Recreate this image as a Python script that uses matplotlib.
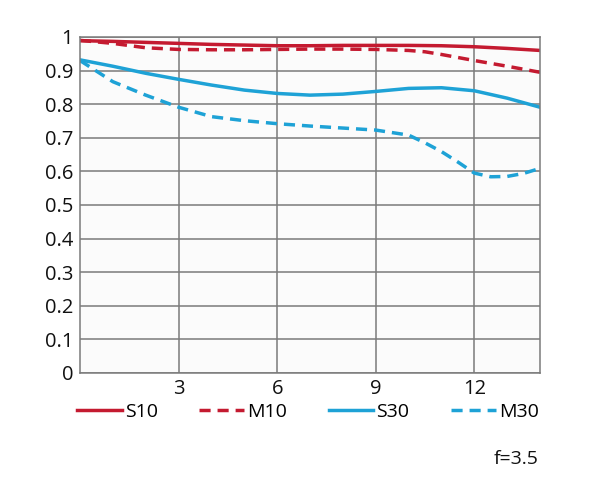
import matplotlib
matplotlib.use("Agg")
import matplotlib.pyplot as plt
from matplotlib.lines import Line2D

plt.rcParams['font.family'] = ['Open Sans', 'DejaVu Sans']

x_s10 = [0, 1, 2, 3, 4, 5, 6, 7, 8, 9, 10, 11, 12, 13, 14]
s10 = [0.989, 0.987, 0.984, 0.981, 0.978, 0.976, 0.974, 0.974, 0.975, 0.975, 0.975, 0.974, 0.971, 0.966, 0.960]

x_m10 = [0, 1, 2, 3, 4, 5, 6, 7, 8, 9, 10, 10.5, 11, 12, 13, 14]
m10 = [0.990, 0.981, 0.968, 0.963, 0.962, 0.962, 0.963, 0.964, 0.964, 0.963, 0.960, 0.956, 0.948, 0.930, 0.913, 0.895]

x_s30 = [0, 1, 2, 3, 4, 5, 6, 7, 8, 9, 10, 11, 12, 13, 14]
s30 = [0.932, 0.913, 0.892, 0.874, 0.857, 0.842, 0.832, 0.827, 0.830, 0.838, 0.847, 0.849, 0.840, 0.818, 0.791]

x_m30 = [0, 1, 2, 3, 4, 5, 6, 7, 8, 9, 10, 10.5, 11, 11.5, 12, 12.5, 13, 13.5, 14]
m30 = [0.930, 0.867, 0.827, 0.791, 0.763, 0.751, 0.742, 0.735, 0.729, 0.723, 0.708, 0.685, 0.659, 0.628, 0.595, 0.584, 0.585, 0.594, 0.609]

x_ticks = [3, 6, 9, 12]
y_ticks = [0, 0.1, 0.2, 0.3, 0.4, 0.5, 0.6, 0.7, 0.8, 0.9, 1]
y_labels = ['0', '0.1', '0.2', '0.3', '0.4', '0.5', '0.6', '0.7', '0.8', '0.9', '1']
labels = ['S10', 'M10', 'S30', 'M30']

red = '#c41a30'
blue = '#1ea2d6'
dash = (3.2, 2.0)

fig = plt.figure(figsize=(6.0, 5.03), dpi=100)
ax = fig.add_axes([80/600, 1-373/503, 460/600, 336/503])
ax.set_facecolor('#fbfbfb')

lw = 2.5
ax.plot(x_s10, s10, color=red, lw=lw, solid_capstyle='butt')
ax.plot(x_m10, m10, color=red, lw=lw, dashes=dash)
ax.plot(x_s30, s30, color=blue, lw=lw)
ax.plot(x_m30, m30, color=blue, lw=lw, dashes=dash)

ax.set_xlim(0, 14)
ax.set_ylim(0, 1)
ax.set_xticks(x_ticks)
ax.set_xticklabels([str(v) for v in x_ticks])
ax.set_yticks(y_ticks)
ax.set_yticklabels(y_labels)
ax.grid(True, color='#7a7a7a', lw=1.1)
ax.set_axisbelow(True)
ax.tick_params(length=0, labelsize=14.5, colors='#111111')
ax.tick_params(axis='y', pad=5)
ax.tick_params(axis='x', pad=4)
for s in ax.spines.values():
    s.set_color('#7a7a7a')
    s.set_linewidth(1.1)

handles = [Line2D([], [], color=red, lw=lw),
           Line2D([], [], color=red, lw=lw, dashes=dash),
           Line2D([], [], color=blue, lw=lw),
           Line2D([], [], color=blue, lw=lw, dashes=dash)]
fig.legend(handles, labels, ncol=4, loc='center left',
           bbox_to_anchor=(77/600, 1-412/503), frameon=False,
           fontsize=14, handlelength=2.3, handletextpad=0.15,
           columnspacing=2.15, borderaxespad=0, borderpad=0)

fig.text(539/600, 1-459/503, 'f=3.5', ha='right', va='center', fontsize=14, color='#111111')

fig.savefig('out.png', dpi=100)
